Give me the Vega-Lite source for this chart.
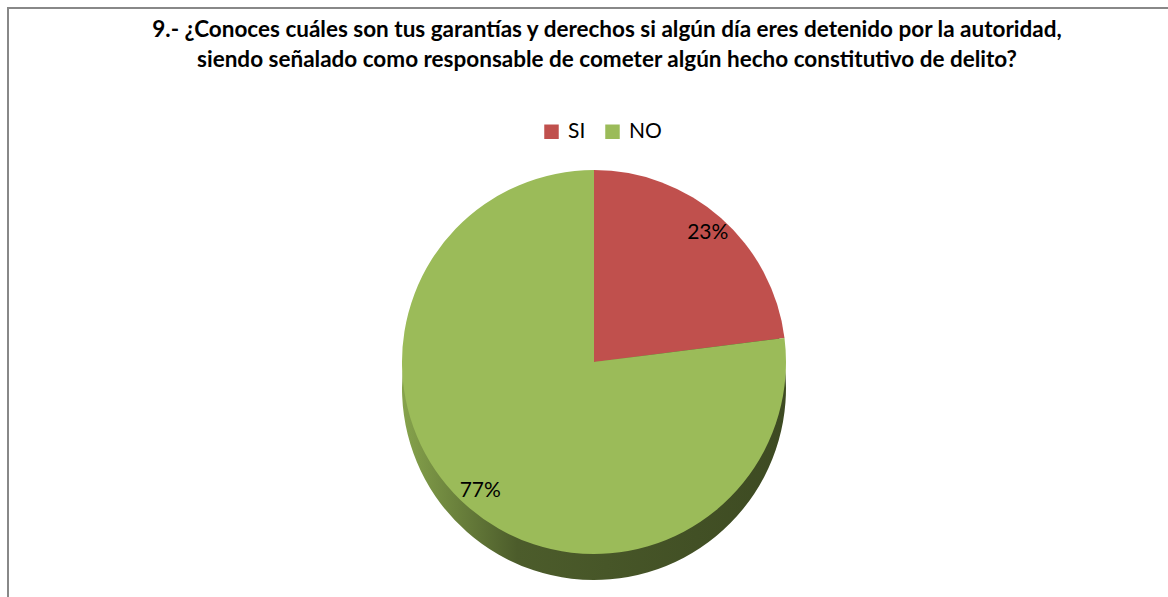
{
  "$schema": "https://vega.github.io/schema/vega-lite/v6.json",
  "width": 1172,
  "height": 708,
  "autosize": {"type": "none"},
  "padding": {"left": 8, "top": 8, "right": 0, "bottom": 0},
  "background": "white",
  "view": {"stroke": "#888888", "strokeWidth": 2, "fill": "white"},
  "config": {"view": {"stroke": "#888888", "strokeWidth": 2}},
  "title": {
    "text": [
      "9.- ¿Conoces cuáles son tus garantías y derechos si algún día eres detenido por la autoridad,",
      "siendo señalado como responsable de cometer algún hecho constitutivo de delito?"
    ],
    "font": "Lato",
    "fontWeight": "bold",
    "fontSize": 22.5,
    "color": "#000000",
    "anchor": "middle",
    "frame": "group",
    "offset": -63,
    "lineHeight": 30,
    "dx": 13
  },
  "data": {
    "values": [
      {"respuesta": "SI", "valor": 0.23, "orden": 1},
      {"respuesta": "NO", "valor": 0.77, "orden": 2}
    ]
  },
  "encoding": {
    "theta": {"field": "valor", "type": "quantitative", "stack": true},
    "order": {"field": "orden", "type": "quantitative"}
  },
  "layer": [
    {
      "mark": {
        "type": "arc",
        "outerRadius": 192,
        "yOffset": 26,
        "strokeWidth": 0,
        "color": {
          "gradient": "linear",
          "x1": 0, "y1": 0, "x2": 1, "y2": 0,
          "stops": [
            {"offset": 0, "color": "#86a34c"},
            {"offset": 0.3, "color": "#4c5c2b"},
            {"offset": 1, "color": "#3d4a22"}
          ]
        }
      }
    },
    {
      "mark": {"type": "arc", "outerRadius": 192, "strokeWidth": 0},
      "encoding": {
        "color": {
          "field": "respuesta",
          "type": "nominal",
          "scale": {"domain": ["SI", "NO"], "range": ["#c0504d", "#9bbb59"]},
          "legend": {
            "title": null,
            "orient": "none",
            "direction": "horizontal",
            "legendX": 533,
            "legendY": 113,
            "symbolType": "square",
            "symbolSize": 210,
            "symbolStrokeWidth": 0,
            "labelFont": "Lato",
            "labelFontSize": 21,
            "labelColor": "#000000",
            "labelOffset": 6,
            "columnPadding": 16
          }
        }
      }
    },
    {
      "mark": {"type": "text", "radius": 172, "font": "Lato", "fontSize": 21, "color": "#000000"},
      "encoding": {
        "text": {"field": "valor", "type": "quantitative", "format": ".0%"}
      }
    }
  ]
}
